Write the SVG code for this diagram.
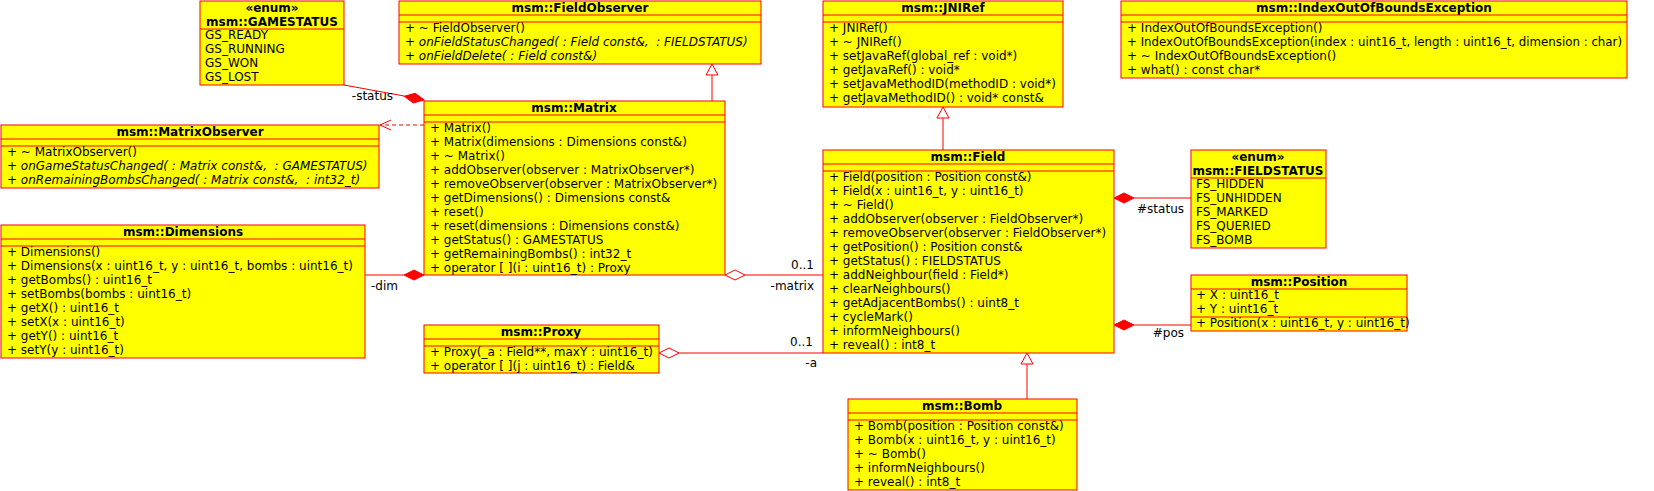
<svg xmlns="http://www.w3.org/2000/svg" width="1654" height="491" viewBox="0 0 1654 491">
<style>
.box{fill:#ffff00;stroke:#ff0000;stroke-width:1}
.div{stroke:#ff0000;stroke-width:1}
text{font-family:"DejaVu Sans",Verdana,sans-serif;font-size:12px;fill:#000;white-space:pre}
.h{font-weight:bold;text-anchor:middle}
.i{font-style:italic}
.ln{stroke:#ff0000;stroke-width:1;fill:none}
.dash{stroke:#ff0000;stroke-width:1;fill:none;stroke-dasharray:4,3}
.fd{fill:#ff0000;stroke:#ff0000}
.hd{fill:#ffffff;stroke:#ff0000}
.tri{fill:#ffffff;stroke:#ff0000}
.r{text-anchor:end}
</style>
<rect width="1654" height="491" fill="#ffffff"/>

<g id="connectors">
  <line class="ln" x1="344" y1="85" x2="404" y2="96"/>
  <path class="fd" d="M0,0 L-10,-5 L-20,0 L-10,5 Z" transform="translate(424,100) rotate(10.6)"/>
  <text class="r" x="393" y="100">-status</text>
  <line class="ln" x1="712" y1="75" x2="712" y2="101"/>
  <path class="tri" d="M712,64 L718,75 L706,75 Z"/>
  <line class="dash" x1="424" y1="125" x2="380" y2="125"/>
  <path class="ln" d="M391,120 L380,125 L391,130"/>
  <line class="ln" x1="365" y1="275" x2="404" y2="275"/>
  <path class="fd" d="M424,275 L414,270 L404,275 L414,280 Z"/>
  <text x="371" y="290">-dim</text>
  <line class="ln" x1="745" y1="275" x2="823" y2="275"/>
  <path class="hd" d="M725,275 L735,270 L745,275 L735,280 Z"/>
  <text class="r" x="814" y="269">0..1</text>
  <text class="r" x="814" y="290">-matrix</text>
  <line class="ln" x1="679" y1="353" x2="823" y2="353"/>
  <path class="hd" d="M659,353 L669,348 L679,353 L669,358 Z"/>
  <text class="r" x="813" y="346">0..1</text>
  <text class="r" x="817" y="367">-a</text>
  <line class="ln" x1="943" y1="118" x2="943" y2="150"/>
  <path class="tri" d="M943,107 L949,118 L937,118 Z"/>
  <line class="ln" x1="1027" y1="364" x2="1027" y2="399"/>
  <path class="tri" d="M1027,353 L1033,364 L1021,364 Z"/>
  <line class="ln" x1="1134" y1="198" x2="1191" y2="198"/>
  <path class="fd" d="M1114,198 L1124,193 L1134,198 L1124,203 Z"/>
  <text class="r" x="1184" y="213">#status</text>
  <line class="ln" x1="1134" y1="325" x2="1191" y2="325"/>
  <path class="fd" d="M1114,325 L1124,320 L1134,325 L1124,330 Z"/>
  <text class="r" x="1184" y="337">#pos</text>
</g>

<g id="GAMESTATUS">
  <rect class="box" x="200" y="1" width="144" height="84"/>
  <text class="h" x="272" y="12">«enum»</text>
  <text class="h" x="272" y="26">msm::GAMESTATUS</text>
  <line class="div" x1="200" y1="29" x2="344" y2="29"/>
  <text x="205" y="39">GS_READY</text>
  <text x="205" y="53">GS_RUNNING</text>
  <text x="205" y="67">GS_WON</text>
  <text x="205" y="81">GS_LOST</text>
</g>

<g id="FieldObserver">
  <rect class="box" x="399" y="1" width="362" height="63"/>
  <text class="h" x="580" y="12">msm::FieldObserver</text>
  <line class="div" x1="399" y1="15" x2="761" y2="15"/>
  <line class="div" x1="399" y1="22" x2="761" y2="22"/>
  <text x="405" y="32">+ ~ FieldObserver()</text>
  <text class="i" x="405" y="46">+ onFieldStatusChanged( : Field const&amp;,  : FIELDSTATUS)</text>
  <text class="i" x="405" y="60">+ onFieldDelete( : Field const&amp;)</text>
</g>

<g id="JNIRef">
  <rect class="box" x="823" y="1" width="240" height="106"/>
  <text class="h" x="943" y="12">msm::JNIRef</text>
  <line class="div" x1="823" y1="15" x2="1063" y2="15"/>
  <line class="div" x1="823" y1="22" x2="1063" y2="22"/>
  <text x="829" y="32">+ JNIRef()</text>
  <text x="829" y="46">+ ~ JNIRef()</text>
  <text x="829" y="60">+ setJavaRef(global_ref : void*)</text>
  <text x="829" y="74">+ getJavaRef() : void*</text>
  <text x="829" y="88">+ setJavaMethodID(methodID : void*)</text>
  <text x="829" y="102">+ getJavaMethodID() : void* const&amp;</text>
</g>

<g id="IndexOutOfBoundsException">
  <rect class="box" x="1121" y="1" width="506" height="77"/>
  <text class="h" x="1374" y="12">msm::IndexOutOfBoundsException</text>
  <line class="div" x1="1121" y1="15" x2="1627" y2="15"/>
  <line class="div" x1="1121" y1="22" x2="1627" y2="22"/>
  <text x="1127" y="32">+ IndexOutOfBoundsException()</text>
  <text x="1127" y="46" textLength="495" lengthAdjust="spacingAndGlyphs">+ IndexOutOfBoundsException(index : uint16_t, length : uint16_t, dimension : char)</text>
  <text x="1127" y="60">+ ~ IndexOutOfBoundsException()</text>
  <text x="1127" y="74">+ what() : const char*</text>
</g>

<g id="MatrixObserver">
  <rect class="box" x="1" y="125" width="378" height="63"/>
  <text class="h" x="190" y="136">msm::MatrixObserver</text>
  <line class="div" x1="1" y1="139" x2="379" y2="139"/>
  <line class="div" x1="1" y1="146" x2="379" y2="146"/>
  <text x="7" y="156">+ ~ MatrixObserver()</text>
  <text class="i" x="7" y="170">+ onGameStatusChanged( : Matrix const&amp;,  : GAMESTATUS)</text>
  <text class="i" x="7" y="184">+ onRemainingBombsChanged( : Matrix const&amp;,  : int32_t)</text>
</g>

<g id="Matrix">
  <rect class="box" x="424" y="101" width="301" height="174"/>
  <text class="h" x="574" y="112">msm::Matrix</text>
  <line class="div" x1="424" y1="115" x2="725" y2="115"/>
  <line class="div" x1="424" y1="122" x2="725" y2="122"/>
  <text x="430" y="132">+ Matrix()</text>
  <text x="430" y="146">+ Matrix(dimensions : Dimensions const&amp;)</text>
  <text x="430" y="160">+ ~ Matrix()</text>
  <text x="430" y="174">+ addObserver(observer : MatrixObserver*)</text>
  <text x="430" y="188">+ removeObserver(observer : MatrixObserver*)</text>
  <text x="430" y="202">+ getDimensions() : Dimensions const&amp;</text>
  <text x="430" y="216">+ reset()</text>
  <text x="430" y="230">+ reset(dimensions : Dimensions const&amp;)</text>
  <text x="430" y="244">+ getStatus() : GAMESTATUS</text>
  <text x="430" y="258">+ getRemainingBombs() : int32_t</text>
  <text x="430" y="272">+ operator [ ](i : uint16_t) : Proxy</text>
</g>

<g id="Dimensions">
  <rect class="box" x="1" y="225" width="364" height="133"/>
  <text class="h" x="183" y="236">msm::Dimensions</text>
  <line class="div" x1="1" y1="239" x2="365" y2="239"/>
  <line class="div" x1="1" y1="246" x2="365" y2="246"/>
  <text x="7" y="256">+ Dimensions()</text>
  <text x="7" y="270">+ Dimensions(x : uint16_t, y : uint16_t, bombs : uint16_t)</text>
  <text x="7" y="284">+ getBombs() : uint16_t</text>
  <text x="7" y="298">+ setBombs(bombs : uint16_t)</text>
  <text x="7" y="312">+ getX() : uint16_t</text>
  <text x="7" y="326">+ setX(x : uint16_t)</text>
  <text x="7" y="340">+ getY() : uint16_t</text>
  <text x="7" y="354">+ setY(y : uint16_t)</text>
</g>

<g id="Proxy">
  <rect class="box" x="424" y="325" width="235" height="48"/>
  <text class="h" x="541" y="336">msm::Proxy</text>
  <line class="div" x1="424" y1="339" x2="659" y2="339"/>
  <line class="div" x1="424" y1="346" x2="659" y2="346"/>
  <text x="430" y="356">+ Proxy(_a : Field**, maxY : uint16_t)</text>
  <text x="430" y="370">+ operator [ ](j : uint16_t) : Field&amp;</text>
</g>

<g id="Field">
  <rect class="box" x="823" y="150" width="291" height="203"/>
  <text class="h" x="968" y="161">msm::Field</text>
  <line class="div" x1="823" y1="164" x2="1114" y2="164"/>
  <line class="div" x1="823" y1="171" x2="1114" y2="171"/>
  <text x="829" y="181">+ Field(position : Position const&amp;)</text>
  <text x="829" y="195">+ Field(x : uint16_t, y : uint16_t)</text>
  <text x="829" y="209">+ ~ Field()</text>
  <text x="829" y="223">+ addObserver(observer : FieldObserver*)</text>
  <text x="829" y="237">+ removeObserver(observer : FieldObserver*)</text>
  <text x="829" y="251">+ getPosition() : Position const&amp;</text>
  <text x="829" y="265">+ getStatus() : FIELDSTATUS</text>
  <text x="829" y="279">+ addNeighbour(field : Field*)</text>
  <text x="829" y="293">+ clearNeighbours()</text>
  <text x="829" y="307">+ getAdjacentBombs() : uint8_t</text>
  <text x="829" y="321">+ cycleMark()</text>
  <text x="829" y="335">+ informNeighbours()</text>
  <text x="829" y="349">+ reveal() : int8_t</text>
</g>

<g id="FIELDSTATUS">
  <rect class="box" x="1191" y="150" width="135" height="98"/>
  <text class="h" x="1258" y="161">«enum»</text>
  <text class="h" x="1258" y="175">msm::FIELDSTATUS</text>
  <line class="div" x1="1191" y1="178" x2="1326" y2="178"/>
  <text x="1196" y="188">FS_HIDDEN</text>
  <text x="1196" y="202">FS_UNHIDDEN</text>
  <text x="1196" y="216">FS_MARKED</text>
  <text x="1196" y="230">FS_QUERIED</text>
  <text x="1196" y="244">FS_BOMB</text>
</g>

<g id="Position">
  <rect class="box" x="1191" y="275" width="216" height="56"/>
  <text class="h" x="1299" y="286">msm::Position</text>
  <line class="div" x1="1191" y1="289" x2="1407" y2="289"/>
  <text x="1196" y="299">+ X : uint16_t</text>
  <text x="1196" y="313">+ Y : uint16_t</text>
  <line class="div" x1="1191" y1="317" x2="1407" y2="317"/>
  <text x="1196" y="327">+ Position(x : uint16_t, y : uint16_t)</text>
</g>

<g id="Bomb">
  <rect class="box" x="848" y="399" width="229" height="91"/>
  <text class="h" x="962" y="410">msm::Bomb</text>
  <line class="div" x1="848" y1="413" x2="1077" y2="413"/>
  <line class="div" x1="848" y1="420" x2="1077" y2="420"/>
  <text x="854" y="430">+ Bomb(position : Position const&amp;)</text>
  <text x="854" y="444">+ Bomb(x : uint16_t, y : uint16_t)</text>
  <text x="854" y="458">+ ~ Bomb()</text>
  <text x="854" y="472">+ informNeighbours()</text>
  <text x="854" y="486">+ reveal() : int8_t</text>
</g>
</svg>
